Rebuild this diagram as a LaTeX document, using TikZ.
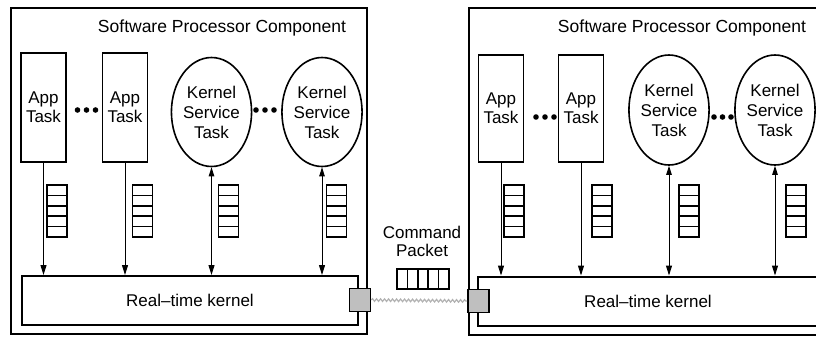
\documentclass[tikz,border=0pt]{standalone}
\usepackage{fontspec}
\setmainfont{Liberation Sans}
\usetikzlibrary{shapes.geometric,arrows.meta,decorations.pathmorphing}
\begin{document}
\begin{tikzpicture}[x=1pt,y=-1pt,
  frame/.style={draw,line width=1.3pt},
  title/.style={font=\fontsize{17.5}{20}\selectfont},
  apptask/.style={draw,line width=1.6pt,minimum width=45pt,minimum height=109pt,
    inner sep=0pt,align=center,font=\fontsize{17}{19}\selectfont},
  kstask/.style={draw,ellipse,line width=1.6pt,minimum width=71pt,minimum height=109pt,
    inner sep=0pt,align=center,font=\fontsize{17}{20}\selectfont},
  queue/.style={draw,line width=1.6pt,minimum width=20pt,minimum height=52pt,inner sep=0pt,
    path picture={\foreach \k in {1,...,4}{
      \draw[line width=1.6pt] ([yshift=-\k*10.4pt]path picture bounding box.north west)
        -- ([yshift=-\k*10.4pt]path picture bounding box.north east);}}},
  packet/.style={draw,line width=1.6pt,minimum width=52pt,minimum height=20pt,inner sep=0pt,
    path picture={\foreach \k in {1,...,4}{
      \draw[line width=1.6pt] ([xshift=\k*10.4pt]path picture bounding box.north west)
        -- ([xshift=\k*10.4pt]path picture bounding box.south west);}}},
  kernel/.style={draw,line width=2pt,minimum height=49pt,inner sep=0pt,
    font=\fontsize{17}{20}\selectfont},
  port/.style={draw,line width=1.6pt,fill=gray!50,minimum width=21pt,minimum height=23pt,inner sep=0pt},
  arr/.style={line width=1pt,-{Triangle[length=10pt,width=6pt]}},
  darr/.style={line width=1pt,{Triangle[length=9pt,width=5.5pt]}-{Triangle[length=10pt,width=6pt]}},
  link/.style={gray!60,line width=1.2pt,decorate,decoration={snake,amplitude=1.3pt,segment length=4pt}},
  lbl/.style={align=center,font=\fontsize{17}{18}\selectfont}
]
\useasboundingbox (0,0) rectangle (816,338);

% ---------- left processor ----------
\draw[frame] (11,8) rectangle (367,334);
\node[title] (t1) at (222,28) {Software Processor Component};
\node[apptask] (a1) at (43.5,107.5) {App\\Task};
\node[apptask] (a2) at (125,107.5) {App\\Task};
\node[kstask] (e1) at (211.5,112) {Kernel\\Service\\Task};
\node[kstask] (e2) at (322,112) {Kernel\\Service\\Task};
\foreach \x in {77.5,86.5,95.5} \fill (\x,110) circle (2.8pt);
\foreach \x in {256,265,274} \fill (\x,110) circle (2.8pt);
\node[queue] (q1) at (57,211) {};
\node[queue] (q2) at (142.5,211) {};
\node[queue] (q3) at (228.5,211) {};
\node[queue] (q4) at (336.5,211) {};
\node[kernel,minimum width=336pt] (k1) at (190,300.5) {Real--time kernel};
\node[port] (p1) at (360,300) {};
\draw[arr] (a1.south) -- (a1.south |- k1.north);
\draw[arr] (a2.south) -- (a2.south |- k1.north);
\draw[darr] (e1.south) -- (e1.south |- k1.north);
\draw[darr] (e2.south) -- (e2.south |- k1.north);

% ---------- command packet ----------
\node[lbl] (cmd) at (422,241) {Command\\Packet};
\node[packet] (pk) at (423,279) {};

% ---------- right processor ----------
\draw[frame] (469,8) rectangle (824,335);
\node[title] (t2) at (682,28) {Software Processor Component};
\node[apptask,minimum height=107pt] (b1) at (501,108.5) {App\\Task};
\node[apptask,minimum height=107pt] (b2) at (581,108.5) {App\\Task};
\node[kstask,minimum height=110pt] (f1) at (669,110) {Kernel\\Service\\Task};
\node[kstask,minimum height=110pt,minimum width=68pt] (f2) at (775,110) {Kernel\\Service\\Task};
\foreach \x in {536,545,554} \fill (\x,117) circle (2.8pt);
\foreach \x in {714,722.5,731} \fill (\x,117) circle (2.8pt);
\node[queue] (r1) at (514,211) {};
\node[queue] (r2) at (602,211) {};
\node[queue] (r3) at (689,211) {};
\node[queue] (r4) at (796,211) {};
\node[kernel,minimum width=340pt] (k2) at (648,301) {Real--time kernel};
\node[port] (p2) at (478.5,301) {};
\draw[arr] (b1.south) -- (b1.south |- k2.north);
\draw[arr] (b2.south) -- (b2.south |- k2.north);
\draw[darr] (f1.south) -- (f1.south |- k2.north);
\draw[darr] (f2.south) -- (f2.south |- k2.north);

% ---------- link between the two kernels ----------
\draw[link] (p1.east) -- (p2.west);
\end{tikzpicture}
\end{document}
